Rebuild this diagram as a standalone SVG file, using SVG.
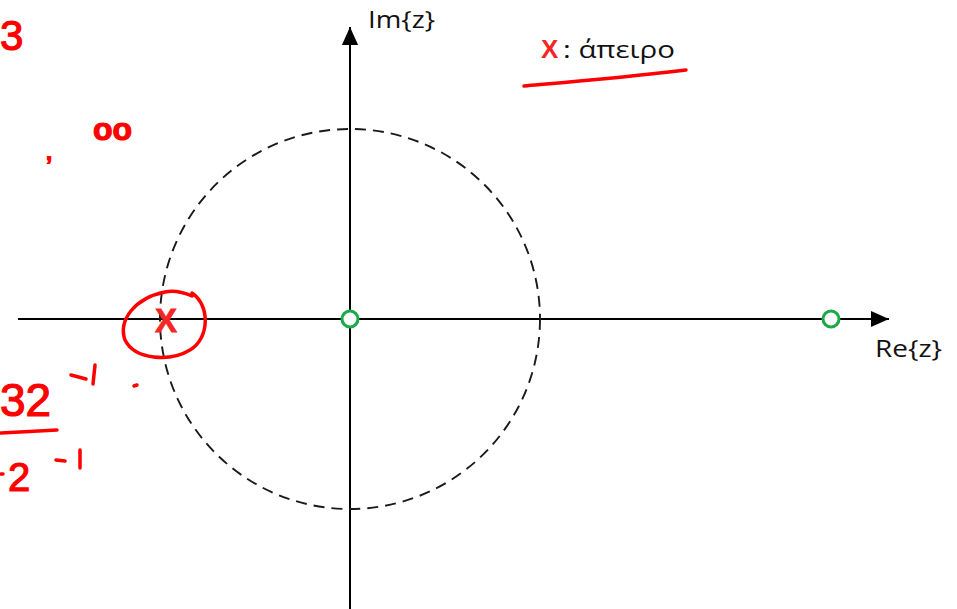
<svg xmlns="http://www.w3.org/2000/svg" width="957" height="609" viewBox="0 0 957 609">
<style>
.ax{stroke:#000;stroke-width:2;fill:none}
.zero{fill:#fff;stroke:#1aaa4a;stroke-width:3}
.lbl{font-family:"Open Sans",Lato,"Liberation Sans",sans-serif;font-size:24px;fill:#111}
.ink{stroke:#f00;stroke-width:3.5;fill:none;stroke-linecap:round;stroke-linejoin:round}
.hw{font-family:"Liberation Sans","DejaVu Sans",sans-serif;fill:#f00;stroke:#f00;stroke-width:1.2}
.xr{font-family:"Liberation Sans",sans-serif;font-weight:bold;fill:#f52525}
</style>
<defs>
<marker id="ah2" viewBox="0 0 10 10" refX="10" refY="5" markerWidth="18" markerHeight="18" markerUnits="userSpaceOnUse" orient="auto">
<path d="M0,0.5 L10,5 L0,9.5 z" fill="#000"/>
</marker>
</defs>
<rect width="957" height="609" fill="#fff"/>
<g id="connectors">
<line class="ax" x1="18" y1="319" x2="889" y2="319" marker-end="url(#ah2)"/>
<line class="ax" x1="350" y1="609" x2="350" y2="27" marker-end="url(#ah2)"/>
</g>
<g id="unit-circle">
<circle cx="350" cy="319" r="190" fill="none" stroke="#1a1a1a" stroke-width="1.9" stroke-dasharray="11 7"/>
</g>
<g id="zero-origin"><circle class="zero" cx="350" cy="319" r="8"/></g>
<g id="zero-right"><circle class="zero" cx="831" cy="319" r="8"/></g>
<g id="pole"><text class="xr" x="166" y="332" text-anchor="middle" font-size="33" stroke="#f52525" stroke-width="0.8">X</text></g>
<g id="im-label"><text class="lbl" x="368" y="28" textLength="67" lengthAdjust="spacingAndGlyphs">Im{z}</text></g>
<g id="re-label"><text class="lbl" x="875" y="357" textLength="67" lengthAdjust="spacingAndGlyphs">Re{z}</text></g>
<g id="legend">
<text class="xr" x="541" y="58" font-size="26">X</text>
<text class="lbl" x="563" y="58" font-size="26" textLength="112" lengthAdjust="spacingAndGlyphs">: άπειρο</text>
</g>
<g id="annotations">
<path class="ink" d="M524,86 C570,82 620,78 686,70"/>
<path class="ink" d="M192,293 C210,305 210,338 190,350 C170,362 135,360 125,340 C118,320 135,298 165,292 C175,290 185,293 192,296"/>
<text class="hw" x="0" y="50" font-size="42">3</text>
<text class="hw" x="93" y="140" font-size="32" font-weight="bold">oo</text>
<text class="hw" x="46" y="160" font-size="22" font-weight="bold">,</text>
<text class="hw" x="0" y="416" font-size="46">32</text>
<path class="ink" d="M71,375 L86,379 M95,365 L93,384"/>
<path class="ink" d="M1,433 L57,430"/>
<text class="hw" x="8" y="491" font-size="40">2</text>
<path class="ink" d="M1,474 L3,474 M56,460 L65,461 M80,450 L80,468"/>
<path class="ink" d="M134,386 L137,385"/>
</g>
</svg>
